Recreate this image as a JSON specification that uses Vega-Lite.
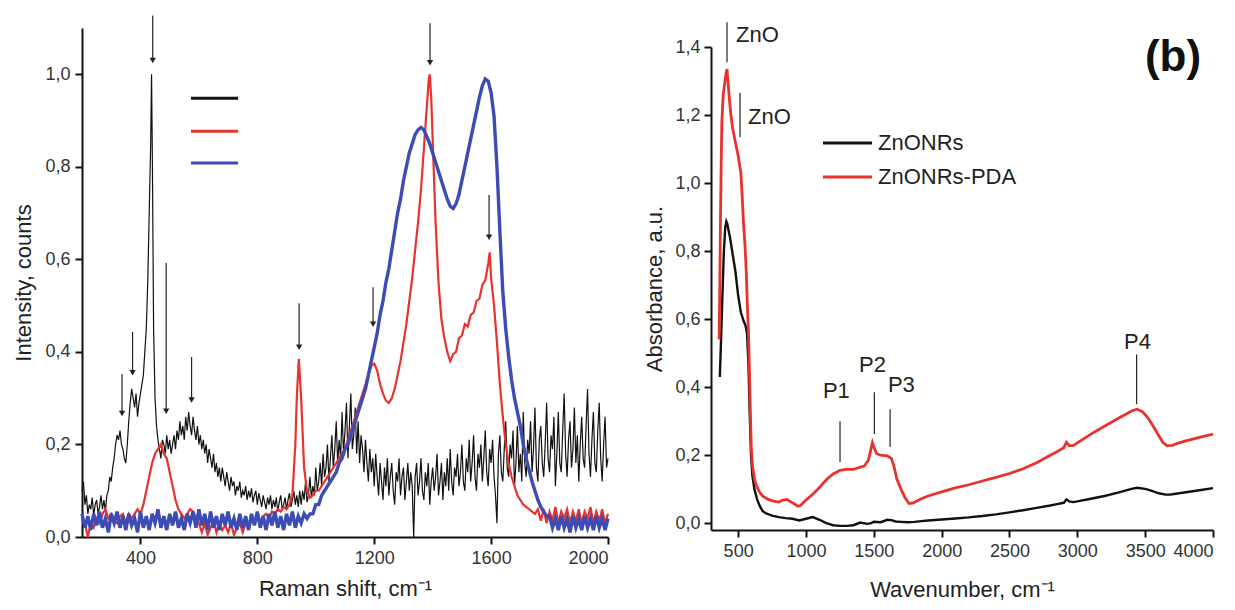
{
"$schema": "https://vega.github.io/schema/vega-lite/v6.json",
"padding": {"left": 12, "top": 14, "right": 5, "bottom": 5},
"background": "white",
"spacing": 103,
"bounds": "flush",
"resolve": {"scale": {"color": "independent"}},
"config": {
  "view": {"stroke": null},
  "locale": {"number": {"decimal": ",", "thousands": "", "grouping": [3], "currency": ["", ""]}},
  "axis": {"labelFont": "Liberation Sans", "labelFontSize": 18, "labelColor": "#333333", "titleFont": "Liberation Sans", "titleFontSize": 22, "titleFontWeight": "normal", "titleColor": "#222222", "grid": false}
},
"datasets": {
  "a_black": [{"x":200,"y":0.10},{"x":205,"y":0.12},{"x":210,"y":0.07},{"x":215,"y":0.09},{"x":220,"y":0.05},{"x":225,"y":0.07},{"x":230,"y":0.06},{"x":235,"y":0.085},{"x":240,"y":0.045},{"x":245,"y":0.07},{"x":250,"y":0.08},{"x":255,"y":0.05},{"x":260,"y":0.065},{"x":265,"y":0.09},{"x":270,"y":0.06},{"x":275,"y":0.08},{"x":280,"y":0.055},{"x":285,"y":0.09},{"x":290,"y":0.10},{"x":295,"y":0.13},{"x":300,"y":0.12},{"x":305,"y":0.15},{"x":310,"y":0.17},{"x":315,"y":0.20},{"x":320,"y":0.22},{"x":325,"y":0.21},{"x":330,"y":0.23},{"x":335,"y":0.20},{"x":340,"y":0.19},{"x":345,"y":0.17},{"x":350,"y":0.16},{"x":355,"y":0.20},{"x":360,"y":0.25},{"x":365,"y":0.29},{"x":370,"y":0.32},{"x":375,"y":0.30},{"x":380,"y":0.28},{"x":385,"y":0.31},{"x":390,"y":0.26},{"x":395,"y":0.29},{"x":400,"y":0.31},{"x":405,"y":0.33},{"x":410,"y":0.35},{"x":415,"y":0.40},{"x":420,"y":0.45},{"x":425,"y":0.55},{"x":430,"y":0.70},{"x":435,"y":0.85},{"x":438,"y":1.0},{"x":441,"y":0.8},{"x":445,"y":0.45},{"x":450,"y":0.30},{"x":455,"y":0.24},{"x":460,"y":0.21},{"x":465,"y":0.19},{"x":470,"y":0.17},{"x":475,"y":0.21},{"x":480,"y":0.20},{"x":485,"y":0.18},{"x":490,"y":0.22},{"x":495,"y":0.19},{"x":500,"y":0.21},{"x":505,"y":0.18},{"x":510,"y":0.20},{"x":515,"y":0.22},{"x":520,"y":0.19},{"x":525,"y":0.23},{"x":530,"y":0.21},{"x":535,"y":0.25},{"x":540,"y":0.22},{"x":545,"y":0.24},{"x":550,"y":0.21},{"x":555,"y":0.26},{"x":560,"y":0.23},{"x":565,"y":0.27},{"x":570,"y":0.24},{"x":575,"y":0.22},{"x":580,"y":0.26},{"x":585,"y":0.23},{"x":590,"y":0.21},{"x":595,"y":0.24},{"x":600,"y":0.20},{"x":605,"y":0.22},{"x":610,"y":0.19},{"x":615,"y":0.21},{"x":620,"y":0.18},{"x":625,"y":0.20},{"x":630,"y":0.16},{"x":635,"y":0.19},{"x":640,"y":0.17},{"x":645,"y":0.15},{"x":650,"y":0.18},{"x":655,"y":0.14},{"x":660,"y":0.16},{"x":665,"y":0.13},{"x":670,"y":0.15},{"x":675,"y":0.12},{"x":680,"y":0.15},{"x":685,"y":0.13},{"x":690,"y":0.11},{"x":695,"y":0.14},{"x":700,"y":0.12},{"x":705,"y":0.10},{"x":710,"y":0.13},{"x":715,"y":0.11},{"x":720,"y":0.12},{"x":725,"y":0.09},{"x":730,"y":0.11},{"x":735,"y":0.10},{"x":740,"y":0.12},{"x":745,"y":0.085},{"x":750,"y":0.10},{"x":755,"y":0.09},{"x":760,"y":0.11},{"x":765,"y":0.08},{"x":770,"y":0.10},{"x":775,"y":0.085},{"x":780,"y":0.105},{"x":785,"y":0.075},{"x":790,"y":0.09},{"x":795,"y":0.10},{"x":800,"y":0.07},{"x":805,"y":0.095},{"x":810,"y":0.08},{"x":815,"y":0.065},{"x":820,"y":0.09},{"x":825,"y":0.075},{"x":830,"y":0.06},{"x":835,"y":0.085},{"x":840,"y":0.07},{"x":845,"y":0.09},{"x":850,"y":0.06},{"x":855,"y":0.08},{"x":860,"y":0.065},{"x":865,"y":0.085},{"x":870,"y":0.055},{"x":875,"y":0.075},{"x":880,"y":0.09},{"x":885,"y":0.06},{"x":890,"y":0.07},{"x":895,"y":0.085},{"x":900,"y":0.06},{"x":905,"y":0.08},{"x":910,"y":0.095},{"x":915,"y":0.065},{"x":920,"y":0.08},{"x":925,"y":0.10},{"x":930,"y":0.07},{"x":935,"y":0.09},{"x":940,"y":0.065},{"x":945,"y":0.10},{"x":950,"y":0.07},{"x":955,"y":0.10},{"x":960,"y":0.08},{"x":965,"y":0.12},{"x":970,"y":0.075},{"x":975,"y":0.09},{"x":980,"y":0.13},{"x":985,"y":0.085},{"x":990,"y":0.11},{"x":995,"y":0.09},{"x":1000,"y":0.15},{"x":1005,"y":0.10},{"x":1010,"y":0.12},{"x":1015,"y":0.16},{"x":1020,"y":0.11},{"x":1025,"y":0.18},{"x":1030,"y":0.13},{"x":1035,"y":0.15},{"x":1040,"y":0.20},{"x":1045,"y":0.12},{"x":1050,"y":0.17},{"x":1055,"y":0.22},{"x":1060,"y":0.15},{"x":1065,"y":0.19},{"x":1070,"y":0.25},{"x":1075,"y":0.16},{"x":1080,"y":0.21},{"x":1085,"y":0.17},{"x":1090,"y":0.27},{"x":1095,"y":0.18},{"x":1100,"y":0.23},{"x":1105,"y":0.29},{"x":1110,"y":0.17},{"x":1115,"y":0.24},{"x":1120,"y":0.31},{"x":1125,"y":0.19},{"x":1130,"y":0.22},{"x":1135,"y":0.28},{"x":1140,"y":0.18},{"x":1145,"y":0.25},{"x":1150,"y":0.16},{"x":1155,"y":0.22},{"x":1160,"y":0.19},{"x":1165,"y":0.14},{"x":1170,"y":0.21},{"x":1175,"y":0.16},{"x":1180,"y":0.12},{"x":1185,"y":0.19},{"x":1190,"y":0.14},{"x":1195,"y":0.17},{"x":1200,"y":0.11},{"x":1205,"y":0.18},{"x":1210,"y":0.13},{"x":1215,"y":0.09},{"x":1220,"y":0.16},{"x":1225,"y":0.12},{"x":1230,"y":0.08},{"x":1235,"y":0.15},{"x":1240,"y":0.11},{"x":1245,"y":0.17},{"x":1250,"y":0.09},{"x":1255,"y":0.13},{"x":1260,"y":0.16},{"x":1265,"y":0.10},{"x":1270,"y":0.07},{"x":1275,"y":0.14},{"x":1280,"y":0.12},{"x":1285,"y":0.17},{"x":1290,"y":0.09},{"x":1295,"y":0.13},{"x":1300,"y":0.15},{"x":1305,"y":0.08},{"x":1310,"y":0.12},{"x":1315,"y":0.16},{"x":1320,"y":0.10},{"x":1325,"y":0.14},{"x":1330,"y":0.11},{"x":1335,"y":0.0},{"x":1340,"y":0.13},{"x":1345,"y":0.16},{"x":1350,"y":0.09},{"x":1355,"y":0.12},{"x":1360,"y":0.17},{"x":1365,"y":0.10},{"x":1370,"y":0.08},{"x":1375,"y":0.14},{"x":1380,"y":0.11},{"x":1385,"y":0.16},{"x":1390,"y":0.07},{"x":1395,"y":0.12},{"x":1400,"y":0.15},{"x":1405,"y":0.10},{"x":1410,"y":0.13},{"x":1415,"y":0.18},{"x":1420,"y":0.09},{"x":1425,"y":0.12},{"x":1430,"y":0.16},{"x":1435,"y":0.08},{"x":1440,"y":0.14},{"x":1445,"y":0.11},{"x":1450,"y":0.17},{"x":1455,"y":0.10},{"x":1460,"y":0.19},{"x":1465,"y":0.12},{"x":1470,"y":0.09},{"x":1475,"y":0.15},{"x":1480,"y":0.13},{"x":1485,"y":0.18},{"x":1490,"y":0.11},{"x":1495,"y":0.14},{"x":1500,"y":0.20},{"x":1505,"y":0.12},{"x":1510,"y":0.10},{"x":1515,"y":0.17},{"x":1520,"y":0.14},{"x":1525,"y":0.21},{"x":1530,"y":0.12},{"x":1535,"y":0.16},{"x":1540,"y":0.22},{"x":1545,"y":0.13},{"x":1550,"y":0.10},{"x":1555,"y":0.18},{"x":1560,"y":0.15},{"x":1565,"y":0.20},{"x":1570,"y":0.12},{"x":1575,"y":0.17},{"x":1580,"y":0.23},{"x":1585,"y":0.14},{"x":1590,"y":0.11},{"x":1595,"y":0.19},{"x":1600,"y":0.16},{"x":1605,"y":0.21},{"x":1610,"y":0.13},{"x":1615,"y":0.09},{"x":1620,"y":0.03},{"x":1625,"y":0.18},{"x":1630,"y":0.22},{"x":1635,"y":0.14},{"x":1640,"y":0.12},{"x":1645,"y":0.19},{"x":1650,"y":0.25},{"x":1655,"y":0.15},{"x":1660,"y":0.13},{"x":1665,"y":0.20},{"x":1670,"y":0.17},{"x":1675,"y":0.23},{"x":1680,"y":0.11},{"x":1685,"y":0.16},{"x":1690,"y":0.24},{"x":1695,"y":0.14},{"x":1700,"y":0.18},{"x":1705,"y":0.12},{"x":1710,"y":0.27},{"x":1715,"y":0.16},{"x":1720,"y":0.13},{"x":1725,"y":0.21},{"x":1730,"y":0.18},{"x":1735,"y":0.25},{"x":1740,"y":0.14},{"x":1745,"y":0.19},{"x":1750,"y":0.28},{"x":1755,"y":0.15},{"x":1760,"y":0.12},{"x":1765,"y":0.21},{"x":1770,"y":0.24},{"x":1775,"y":0.16},{"x":1780,"y":0.13},{"x":1785,"y":0.20},{"x":1790,"y":0.29},{"x":1795,"y":0.17},{"x":1800,"y":0.14},{"x":1805,"y":0.22},{"x":1810,"y":0.19},{"x":1815,"y":0.26},{"x":1820,"y":0.11},{"x":1825,"y":0.18},{"x":1830,"y":0.27},{"x":1835,"y":0.16},{"x":1840,"y":0.14},{"x":1845,"y":0.23},{"x":1850,"y":0.31},{"x":1855,"y":0.18},{"x":1860,"y":0.13},{"x":1865,"y":0.21},{"x":1870,"y":0.25},{"x":1875,"y":0.15},{"x":1880,"y":0.19},{"x":1885,"y":0.28},{"x":1890,"y":0.16},{"x":1895,"y":0.22},{"x":1900,"y":0.12},{"x":1905,"y":0.20},{"x":1910,"y":0.26},{"x":1915,"y":0.17},{"x":1920,"y":0.15},{"x":1925,"y":0.24},{"x":1930,"y":0.32},{"x":1935,"y":0.18},{"x":1940,"y":0.13},{"x":1945,"y":0.21},{"x":1950,"y":0.27},{"x":1955,"y":0.16},{"x":1960,"y":0.14},{"x":1965,"y":0.23},{"x":1970,"y":0.29},{"x":1975,"y":0.17},{"x":1980,"y":0.12},{"x":1985,"y":0.20},{"x":1990,"y":0.26},{"x":1995,"y":0.15},{"x":2000,"y":0.17}],
  "a_red": [{"x":200,"y":0.04},{"x":210,"y":0.03},{"x":220,"y":0.0},{"x":230,"y":0.03},{"x":240,"y":0.02},{"x":250,"y":0.04},{"x":260,"y":0.03},{"x":270,"y":0.05},{"x":280,"y":0.06},{"x":290,"y":0.04},{"x":300,"y":0.05},{"x":310,"y":0.035},{"x":320,"y":0.03},{"x":330,"y":0.045},{"x":340,"y":0.05},{"x":350,"y":0.03},{"x":360,"y":0.05},{"x":370,"y":0.04},{"x":380,"y":0.05},{"x":390,"y":0.06},{"x":400,"y":0.05},{"x":410,"y":0.07},{"x":420,"y":0.10},{"x":430,"y":0.13},{"x":440,"y":0.16},{"x":450,"y":0.18},{"x":460,"y":0.19},{"x":470,"y":0.20},{"x":480,"y":0.18},{"x":490,"y":0.17},{"x":500,"y":0.14},{"x":510,"y":0.11},{"x":520,"y":0.08},{"x":530,"y":0.06},{"x":540,"y":0.05},{"x":550,"y":0.04},{"x":560,"y":0.05},{"x":570,"y":0.06},{"x":580,"y":0.055},{"x":590,"y":0.04},{"x":600,"y":0.03},{"x":610,"y":0.01},{"x":620,"y":0.03},{"x":630,"y":0.005},{"x":640,"y":0.02},{"x":650,"y":0.035},{"x":660,"y":0.01},{"x":670,"y":0.03},{"x":680,"y":0.015},{"x":690,"y":0.025},{"x":700,"y":0.01},{"x":710,"y":0.03},{"x":720,"y":0.005},{"x":730,"y":0.02},{"x":740,"y":0.03},{"x":750,"y":0.01},{"x":760,"y":0.03},{"x":770,"y":0.02},{"x":780,"y":0.035},{"x":790,"y":0.03},{"x":800,"y":0.04},{"x":810,"y":0.035},{"x":820,"y":0.045},{"x":830,"y":0.05},{"x":840,"y":0.04},{"x":850,"y":0.055},{"x":860,"y":0.05},{"x":870,"y":0.06},{"x":880,"y":0.055},{"x":890,"y":0.065},{"x":900,"y":0.06},{"x":910,"y":0.07},{"x":920,"y":0.09},{"x":930,"y":0.2},{"x":935,"y":0.3},{"x":942,"y":0.385},{"x":950,"y":0.3},{"x":960,"y":0.15},{"x":970,"y":0.10},{"x":980,"y":0.085},{"x":990,"y":0.09},{"x":1000,"y":0.10},{"x":1010,"y":0.10},{"x":1020,"y":0.11},{"x":1030,"y":0.12},{"x":1040,"y":0.13},{"x":1050,"y":0.14},{"x":1060,"y":0.15},{"x":1070,"y":0.16},{"x":1080,"y":0.17},{"x":1090,"y":0.18},{"x":1100,"y":0.19},{"x":1110,"y":0.21},{"x":1120,"y":0.23},{"x":1130,"y":0.25},{"x":1140,"y":0.27},{"x":1150,"y":0.29},{"x":1160,"y":0.31},{"x":1170,"y":0.33},{"x":1180,"y":0.35},{"x":1190,"y":0.37},{"x":1200,"y":0.375},{"x":1210,"y":0.36},{"x":1220,"y":0.33},{"x":1230,"y":0.31},{"x":1240,"y":0.295},{"x":1250,"y":0.29},{"x":1260,"y":0.30},{"x":1270,"y":0.32},{"x":1280,"y":0.35},{"x":1290,"y":0.38},{"x":1300,"y":0.42},{"x":1310,"y":0.46},{"x":1320,"y":0.51},{"x":1330,"y":0.56},{"x":1340,"y":0.62},{"x":1350,"y":0.68},{"x":1360,"y":0.75},{"x":1370,"y":0.84},{"x":1380,"y":0.93},{"x":1387,"y":0.99},{"x":1390,"y":1.0},{"x":1395,"y":0.95},{"x":1400,"y":0.86},{"x":1410,"y":0.68},{"x":1420,"y":0.55},{"x":1430,"y":0.47},{"x":1440,"y":0.43},{"x":1450,"y":0.40},{"x":1460,"y":0.38},{"x":1470,"y":0.395},{"x":1480,"y":0.40},{"x":1490,"y":0.43},{"x":1500,"y":0.435},{"x":1510,"y":0.46},{"x":1520,"y":0.455},{"x":1530,"y":0.48},{"x":1540,"y":0.485},{"x":1550,"y":0.51},{"x":1560,"y":0.515},{"x":1570,"y":0.545},{"x":1580,"y":0.555},{"x":1590,"y":0.59},{"x":1595,"y":0.615},{"x":1600,"y":0.56},{"x":1610,"y":0.50},{"x":1620,"y":0.42},{"x":1630,"y":0.33},{"x":1640,"y":0.26},{"x":1650,"y":0.20},{"x":1660,"y":0.16},{"x":1670,"y":0.13},{"x":1680,"y":0.11},{"x":1690,"y":0.09},{"x":1700,"y":0.08},{"x":1710,"y":0.07},{"x":1720,"y":0.065},{"x":1730,"y":0.06},{"x":1740,"y":0.055},{"x":1750,"y":0.05},{"x":1760,"y":0.06},{"x":1770,"y":0.035},{"x":1780,"y":0.06},{"x":1790,"y":0.03},{"x":1800,"y":0.055},{"x":1810,"y":0.035},{"x":1820,"y":0.065},{"x":1830,"y":0.03},{"x":1840,"y":0.055},{"x":1850,"y":0.04},{"x":1860,"y":0.06},{"x":1870,"y":0.03},{"x":1880,"y":0.055},{"x":1890,"y":0.035},{"x":1900,"y":0.06},{"x":1910,"y":0.03},{"x":1920,"y":0.055},{"x":1930,"y":0.04},{"x":1940,"y":0.065},{"x":1950,"y":0.03},{"x":1960,"y":0.055},{"x":1970,"y":0.035},{"x":1980,"y":0.06},{"x":1990,"y":0.03},{"x":2000,"y":0.05}],
  "a_blue": [{"x":200,"y":0.05},{"x":210,"y":0.02},{"x":220,"y":0.045},{"x":230,"y":0.015},{"x":240,"y":0.05},{"x":250,"y":0.025},{"x":260,"y":0.055},{"x":270,"y":0.02},{"x":280,"y":0.04},{"x":290,"y":0.01},{"x":300,"y":0.05},{"x":310,"y":0.03},{"x":320,"y":0.055},{"x":330,"y":0.02},{"x":340,"y":0.045},{"x":350,"y":0.015},{"x":360,"y":0.05},{"x":370,"y":0.025},{"x":380,"y":0.04},{"x":390,"y":0.01},{"x":400,"y":0.055},{"x":410,"y":0.02},{"x":420,"y":0.045},{"x":430,"y":0.015},{"x":440,"y":0.05},{"x":450,"y":0.03},{"x":460,"y":0.06},{"x":470,"y":0.02},{"x":480,"y":0.045},{"x":490,"y":0.015},{"x":500,"y":0.05},{"x":510,"y":0.025},{"x":520,"y":0.055},{"x":530,"y":0.02},{"x":540,"y":0.04},{"x":550,"y":0.015},{"x":560,"y":0.05},{"x":570,"y":0.03},{"x":580,"y":0.055},{"x":590,"y":0.02},{"x":600,"y":0.06},{"x":610,"y":0.025},{"x":620,"y":0.05},{"x":630,"y":0.015},{"x":640,"y":0.055},{"x":650,"y":0.02},{"x":660,"y":0.045},{"x":670,"y":0.015},{"x":680,"y":0.05},{"x":690,"y":0.025},{"x":700,"y":0.055},{"x":710,"y":0.02},{"x":720,"y":0.04},{"x":730,"y":0.015},{"x":740,"y":0.05},{"x":750,"y":0.02},{"x":760,"y":0.045},{"x":770,"y":0.015},{"x":780,"y":0.05},{"x":790,"y":0.025},{"x":800,"y":0.055},{"x":810,"y":0.02},{"x":820,"y":0.045},{"x":830,"y":0.015},{"x":840,"y":0.05},{"x":850,"y":0.025},{"x":860,"y":0.055},{"x":870,"y":0.02},{"x":880,"y":0.045},{"x":890,"y":0.015},{"x":900,"y":0.05},{"x":910,"y":0.025},{"x":920,"y":0.055},{"x":930,"y":0.02},{"x":940,"y":0.045},{"x":950,"y":0.03},{"x":960,"y":0.05},{"x":970,"y":0.04},{"x":980,"y":0.05},{"x":990,"y":0.05},{"x":1000,"y":0.07},{"x":1010,"y":0.07},{"x":1020,"y":0.09},{"x":1030,"y":0.10},{"x":1040,"y":0.11},{"x":1050,"y":0.12},{"x":1060,"y":0.13},{"x":1070,"y":0.14},{"x":1080,"y":0.16},{"x":1090,"y":0.17},{"x":1100,"y":0.19},{"x":1110,"y":0.20},{"x":1120,"y":0.22},{"x":1130,"y":0.24},{"x":1140,"y":0.26},{"x":1150,"y":0.28},{"x":1160,"y":0.30},{"x":1170,"y":0.32},{"x":1180,"y":0.35},{"x":1190,"y":0.38},{"x":1200,"y":0.41},{"x":1210,"y":0.44},{"x":1220,"y":0.48},{"x":1230,"y":0.51},{"x":1240,"y":0.55},{"x":1250,"y":0.58},{"x":1260,"y":0.62},{"x":1270,"y":0.66},{"x":1280,"y":0.70},{"x":1290,"y":0.73},{"x":1300,"y":0.77},{"x":1310,"y":0.80},{"x":1320,"y":0.83},{"x":1330,"y":0.85},{"x":1340,"y":0.87},{"x":1350,"y":0.88},{"x":1360,"y":0.885},{"x":1370,"y":0.88},{"x":1380,"y":0.865},{"x":1390,"y":0.85},{"x":1400,"y":0.83},{"x":1410,"y":0.81},{"x":1420,"y":0.79},{"x":1430,"y":0.77},{"x":1440,"y":0.75},{"x":1450,"y":0.73},{"x":1460,"y":0.715},{"x":1470,"y":0.71},{"x":1480,"y":0.72},{"x":1490,"y":0.74},{"x":1500,"y":0.77},{"x":1510,"y":0.80},{"x":1520,"y":0.83},{"x":1530,"y":0.86},{"x":1540,"y":0.89},{"x":1550,"y":0.92},{"x":1560,"y":0.95},{"x":1570,"y":0.975},{"x":1580,"y":0.99},{"x":1590,"y":0.985},{"x":1600,"y":0.96},{"x":1610,"y":0.91},{"x":1620,"y":0.80},{"x":1630,"y":0.66},{"x":1640,"y":0.53},{"x":1650,"y":0.45},{"x":1660,"y":0.39},{"x":1670,"y":0.34},{"x":1680,"y":0.30},{"x":1690,"y":0.27},{"x":1700,"y":0.24},{"x":1710,"y":0.20},{"x":1720,"y":0.17},{"x":1730,"y":0.145},{"x":1740,"y":0.12},{"x":1750,"y":0.10},{"x":1760,"y":0.08},{"x":1770,"y":0.065},{"x":1780,"y":0.055},{"x":1790,"y":0.045},{"x":1800,"y":0.045},{"x":1810,"y":0.02},{"x":1820,"y":0.04},{"x":1830,"y":0.015},{"x":1840,"y":0.045},{"x":1850,"y":0.02},{"x":1860,"y":0.04},{"x":1870,"y":0.01},{"x":1880,"y":0.045},{"x":1890,"y":0.02},{"x":1900,"y":0.04},{"x":1910,"y":0.015},{"x":1920,"y":0.045},{"x":1930,"y":0.02},{"x":1940,"y":0.04},{"x":1950,"y":0.015},{"x":1960,"y":0.045},{"x":1970,"y":0.02},{"x":1980,"y":0.04},{"x":1990,"y":0.015},{"x":2000,"y":0.04}],
  "a_arrows": [{"x":442,"y":1.127,"y2":1.03},{"x":1391,"y":1.11,"y2":1.025},{"x":1593,"y":0.739,"y2":0.648},{"x":488,"y":0.592,"y2":0.272},{"x":943,"y":0.505,"y2":0.41},{"x":1196,"y":0.54,"y2":0.46},{"x":373,"y":0.443,"y2":0.355},{"x":337,"y":0.352,"y2":0.267},{"x":575,"y":0.389,"y2":0.296}],
  "a_legend": [{"s":"ZnONRs","x":573,"x2":734,"tx":761,"y":0.948},{"s":"ZnONRs-PDA","x":573,"x2":734,"tx":761,"y":0.877},{"s":"PDA","x":573,"x2":734,"tx":761,"y":0.808}],
  "b_black": [{"x":365,"y":0.43},{"x":375,"y":0.55},{"x":385,"y":0.68},{"x":395,"y":0.80},{"x":405,"y":0.87},{"x":413,"y":0.887},{"x":420,"y":0.88},{"x":430,"y":0.86},{"x":440,"y":0.84},{"x":460,"y":0.79},{"x":480,"y":0.74},{"x":500,"y":0.67},{"x":520,"y":0.62},{"x":540,"y":0.595},{"x":555,"y":0.58},{"x":565,"y":0.56},{"x":575,"y":0.48},{"x":585,"y":0.33},{"x":595,"y":0.2},{"x":605,"y":0.14},{"x":620,"y":0.10},{"x":640,"y":0.07},{"x":660,"y":0.05},{"x":680,"y":0.036},{"x":700,"y":0.03},{"x":750,"y":0.022},{"x":800,"y":0.018},{"x":850,"y":0.015},{"x":900,"y":0.013},{"x":950,"y":0.008},{"x":1000,"y":0.013},{"x":1050,"y":0.018},{"x":1100,"y":0.01},{"x":1150,"y":0.0},{"x":1200,"y":-0.006},{"x":1250,"y":-0.008},{"x":1300,"y":-0.008},{"x":1350,"y":-0.006},{"x":1400,"y":0.002},{"x":1450,"y":-0.002},{"x":1480,"y":0.0},{"x":1500,"y":0.004},{"x":1550,"y":0.003},{"x":1600,"y":0.01},{"x":1630,"y":0.009},{"x":1660,"y":0.005},{"x":1700,"y":0.004},{"x":1750,"y":0.003},{"x":1800,"y":0.004},{"x":1850,"y":0.006},{"x":1900,"y":0.008},{"x":2000,"y":0.011},{"x":2100,"y":0.014},{"x":2200,"y":0.017},{"x":2300,"y":0.021},{"x":2400,"y":0.026},{"x":2500,"y":0.032},{"x":2600,"y":0.038},{"x":2700,"y":0.045},{"x":2800,"y":0.052},{"x":2850,"y":0.056},{"x":2900,"y":0.06},{"x":2920,"y":0.07},{"x":2940,"y":0.064},{"x":2970,"y":0.062},{"x":3000,"y":0.064},{"x":3100,"y":0.072},{"x":3200,"y":0.08},{"x":3300,"y":0.09},{"x":3400,"y":0.101},{"x":3440,"y":0.104},{"x":3500,"y":0.101},{"x":3550,"y":0.095},{"x":3600,"y":0.088},{"x":3650,"y":0.084},{"x":3680,"y":0.084},{"x":3700,"y":0.085},{"x":3750,"y":0.088},{"x":3800,"y":0.091},{"x":3900,"y":0.097},{"x":4000,"y":0.103}],
  "b_red": [{"x":360,"y":0.54},{"x":365,"y":0.7},{"x":370,"y":0.9},{"x":375,"y":1.05},{"x":380,"y":1.18},{"x":390,"y":1.26},{"x":400,"y":1.29},{"x":410,"y":1.32},{"x":418,"y":1.335},{"x":425,"y":1.30},{"x":435,"y":1.25},{"x":447,"y":1.20},{"x":460,"y":1.16},{"x":480,"y":1.12},{"x":500,"y":1.08},{"x":520,"y":1.03},{"x":530,"y":0.96},{"x":540,"y":0.88},{"x":550,"y":0.82},{"x":560,"y":0.74},{"x":570,"y":0.62},{"x":577,"y":0.55},{"x":585,"y":0.42},{"x":590,"y":0.33},{"x":597,"y":0.22},{"x":607,"y":0.165},{"x":620,"y":0.13},{"x":635,"y":0.11},{"x":660,"y":0.09},{"x":680,"y":0.08},{"x":720,"y":0.07},{"x":760,"y":0.065},{"x":800,"y":0.062},{"x":830,"y":0.068},{"x":860,"y":0.07},{"x":880,"y":0.065},{"x":910,"y":0.058},{"x":940,"y":0.05},{"x":960,"y":0.052},{"x":1000,"y":0.068},{"x":1050,"y":0.085},{"x":1100,"y":0.105},{"x":1150,"y":0.128},{"x":1200,"y":0.145},{"x":1250,"y":0.155},{"x":1300,"y":0.158},{"x":1350,"y":0.158},{"x":1400,"y":0.165},{"x":1430,"y":0.168},{"x":1460,"y":0.185},{"x":1480,"y":0.22},{"x":1490,"y":0.237},{"x":1500,"y":0.225},{"x":1520,"y":0.205},{"x":1550,"y":0.2},{"x":1600,"y":0.198},{"x":1630,"y":0.19},{"x":1650,"y":0.165},{"x":1670,"y":0.13},{"x":1700,"y":0.1},{"x":1730,"y":0.075},{"x":1760,"y":0.058},{"x":1790,"y":0.06},{"x":1850,"y":0.072},{"x":1900,"y":0.08},{"x":2000,"y":0.092},{"x":2100,"y":0.104},{"x":2200,"y":0.113},{"x":2300,"y":0.124},{"x":2400,"y":0.135},{"x":2500,"y":0.146},{"x":2600,"y":0.16},{"x":2700,"y":0.178},{"x":2800,"y":0.2},{"x":2850,"y":0.21},{"x":2900,"y":0.222},{"x":2920,"y":0.238},{"x":2940,"y":0.228},{"x":2970,"y":0.228},{"x":3000,"y":0.236},{"x":3100,"y":0.262},{"x":3200,"y":0.285},{"x":3300,"y":0.308},{"x":3400,"y":0.33},{"x":3440,"y":0.335},{"x":3480,"y":0.328},{"x":3520,"y":0.31},{"x":3560,"y":0.285},{"x":3600,"y":0.258},{"x":3630,"y":0.238},{"x":3660,"y":0.228},{"x":3700,"y":0.229},{"x":3750,"y":0.236},{"x":3800,"y":0.242},{"x":3900,"y":0.252},{"x":4000,"y":0.262}],
  "b_arrows": [{"x":418,"y":1.473,"y2":1.355},{"x":514,"y":1.265,"y2":1.135},{"x":1251,"y":0.30,"y2":0.18},{"x":1504,"y":0.385,"y2":0.262},{"x":1620,"y":0.335,"y2":0.224},{"x":3437,"y":0.496,"y2":0.35}],
  "b_labels": [{"t":"ZnO","x":484,"y":1.435},{"t":"ZnO","x":573,"y":1.195},{"t":"P1","x":1125,"y":0.39},{"t":"P2","x":1391,"y":0.464},{"t":"P3","x":1604,"y":0.405},{"t":"P4","x":3344,"y":0.534}],
  "b_tag": [{"t":"(b)","x":3705,"y":1.368}],
  "b_legend": [{"s":"ZnONRs","x":1125,"x2":1487,"tx":1531,"y":1.118},{"s":"ZnONRs-PDA","x":1125,"x2":1487,"tx":1531,"y":1.018}]
},
"hconcat": [
  {
    "width": 526, "height": 509,
    "layer": [
      {"data": {"name": "a_black"}, "mark": {"type": "line", "strokeWidth": 1.2},
       "encoding": {
         "x": {"field": "x", "type": "quantitative", "scale": {"domain": [200, 2000], "nice": false, "zero": false},
               "axis": {"domain": true, "ticks": true, "domainColor": "#111111", "domainWidth": 2, "tickColor": "#111111", "tickWidth": 2, "tickSize": 7, "values": [400,800,1200,1600,2000], "format": "d", "labelPadding": 5, "title": "Raman shift, cm⁻¹", "titleY": 51, "titleBaseline": "middle"}},
         "y": {"field": "y", "type": "quantitative", "scale": {"domain": [0, 1.1], "nice": false},
               "axis": {"domain": true, "ticks": true, "domainColor": "#111111", "domainWidth": 2, "tickColor": "#111111", "tickWidth": 2, "tickSize": 7, "values": [0,0.2,0.4,0.6,0.8,1.0], "format": ".1f", "labelPadding": 5, "title": "Intensity, counts", "titleX": -59, "titleBaseline": "middle"}},
         "color": {"datum": "ZnONRs", "type": "nominal",
                   "scale": {"domain": ["ZnONRs", "ZnONRs-PDA", "PDA"], "range": ["#111111", "#e8322e", "#3c4cb4"]}, "legend": null}
       }},
      {"data": {"name": "a_red"}, "mark": {"type": "line", "strokeWidth": 2.2},
       "encoding": {"x": {"field": "x", "type": "quantitative"}, "y": {"field": "y", "type": "quantitative"}, "color": {"datum": "ZnONRs-PDA", "type": "nominal"}}},
      {"data": {"name": "a_blue"}, "mark": {"type": "line", "strokeWidth": 3.4},
       "encoding": {"x": {"field": "x", "type": "quantitative"}, "y": {"field": "y", "type": "quantitative"}, "color": {"datum": "PDA", "type": "nominal"}}},
      {"data": {"name": "a_legend"}, "mark": {"type": "rule", "strokeWidth": 3},
       "encoding": {"x": {"field": "x", "type": "quantitative"}, "x2": {"field": "x2"}, "y": {"field": "y", "type": "quantitative"}, "color": {"field": "s", "type": "nominal"}}},
      {"data": {"name": "a_arrows"}, "mark": {"type": "rule", "color": "#222222", "strokeWidth": 1.2},
       "encoding": {"x": {"field": "x", "type": "quantitative"}, "y": {"field": "y", "type": "quantitative"}, "y2": {"field": "y2"}}},
      {"data": {"name": "a_arrows"}, "mark": {"type": "point", "shape": "triangle-down", "filled": true, "size": 40, "color": "#222222", "opacity": 1},
       "encoding": {"x": {"field": "x", "type": "quantitative"}, "y": {"field": "y2", "type": "quantitative"}}}
    ]
  },
  {
    "width": 502, "height": 502,
    "layer": [
      {"data": {"name": "b_black"}, "mark": {"type": "line", "strokeWidth": 2.4},
       "encoding": {
         "x": {"field": "x", "type": "quantitative", "scale": {"domain": [300, 4000], "nice": false, "zero": false},
               "axis": {"domain": true, "ticks": true, "domainColor": "#111111", "domainWidth": 2, "tickColor": "#111111", "tickWidth": 2, "tickSize": 7, "values": [500,1000,1500,2000,2500,3000,3500,4000], "format": "d", "labelPadding": 5, "title": "Wavenumber, cm⁻¹", "titleY": 59, "titleBaseline": "middle"}},
         "y": {"field": "y", "type": "quantitative", "scale": {"domain": [-0.02, 1.4], "range": [502, 19], "nice": false, "zero": false},
               "axis": {"domain": true, "ticks": true, "domainColor": "#111111", "domainWidth": 2, "tickColor": "#111111", "tickWidth": 2, "tickSize": 7, "values": [0,0.2,0.4,0.6,0.8,1.0,1.2,1.4], "format": ".1f", "labelPadding": 4, "title": "Absorbance, a.u.", "titleX": -57, "titleBaseline": "middle"}},
         "color": {"datum": "ZnONRs", "type": "nominal",
                   "scale": {"domain": ["ZnONRs", "ZnONRs-PDA"], "range": ["#111111", "#e8322e"]}, "legend": null}
       }},
      {"data": {"name": "b_red"}, "mark": {"type": "line", "strokeWidth": 2.8},
       "encoding": {"x": {"field": "x", "type": "quantitative"}, "y": {"field": "y", "type": "quantitative"}, "color": {"datum": "ZnONRs-PDA", "type": "nominal"}}},
      {"data": {"name": "b_legend"}, "mark": {"type": "rule", "strokeWidth": 3},
       "encoding": {"x": {"field": "x", "type": "quantitative"}, "x2": {"field": "x2"}, "y": {"field": "y", "type": "quantitative"}, "color": {"field": "s", "type": "nominal"}}},
      {"data": {"name": "b_legend"}, "mark": {"type": "text", "font": "Liberation Sans", "fontSize": 22, "align": "left", "baseline": "middle", "color": "#222222"},
       "encoding": {"x": {"field": "tx", "type": "quantitative"}, "y": {"field": "y", "type": "quantitative"}, "text": {"field": "s"}}},
      {"data": {"name": "b_arrows"}, "mark": {"type": "rule", "color": "#222222", "strokeWidth": 1.2},
       "encoding": {"x": {"field": "x", "type": "quantitative"}, "y": {"field": "y", "type": "quantitative"}, "y2": {"field": "y2"}}},
      {"data": {"name": "b_labels"}, "mark": {"type": "text", "font": "Liberation Sans", "fontSize": 22, "align": "left", "baseline": "middle", "color": "#222222"},
       "encoding": {"x": {"field": "x", "type": "quantitative"}, "y": {"field": "y", "type": "quantitative"}, "text": {"field": "t"}}},
      {"data": {"name": "b_tag"}, "mark": {"type": "text", "font": "Liberation Sans", "fontSize": 44, "fontWeight": "bold", "align": "center", "baseline": "middle", "color": "#111111"},
       "encoding": {"x": {"field": "x", "type": "quantitative"}, "y": {"field": "y", "type": "quantitative"}, "text": {"field": "t"}}}
    ]
  }
]
}
